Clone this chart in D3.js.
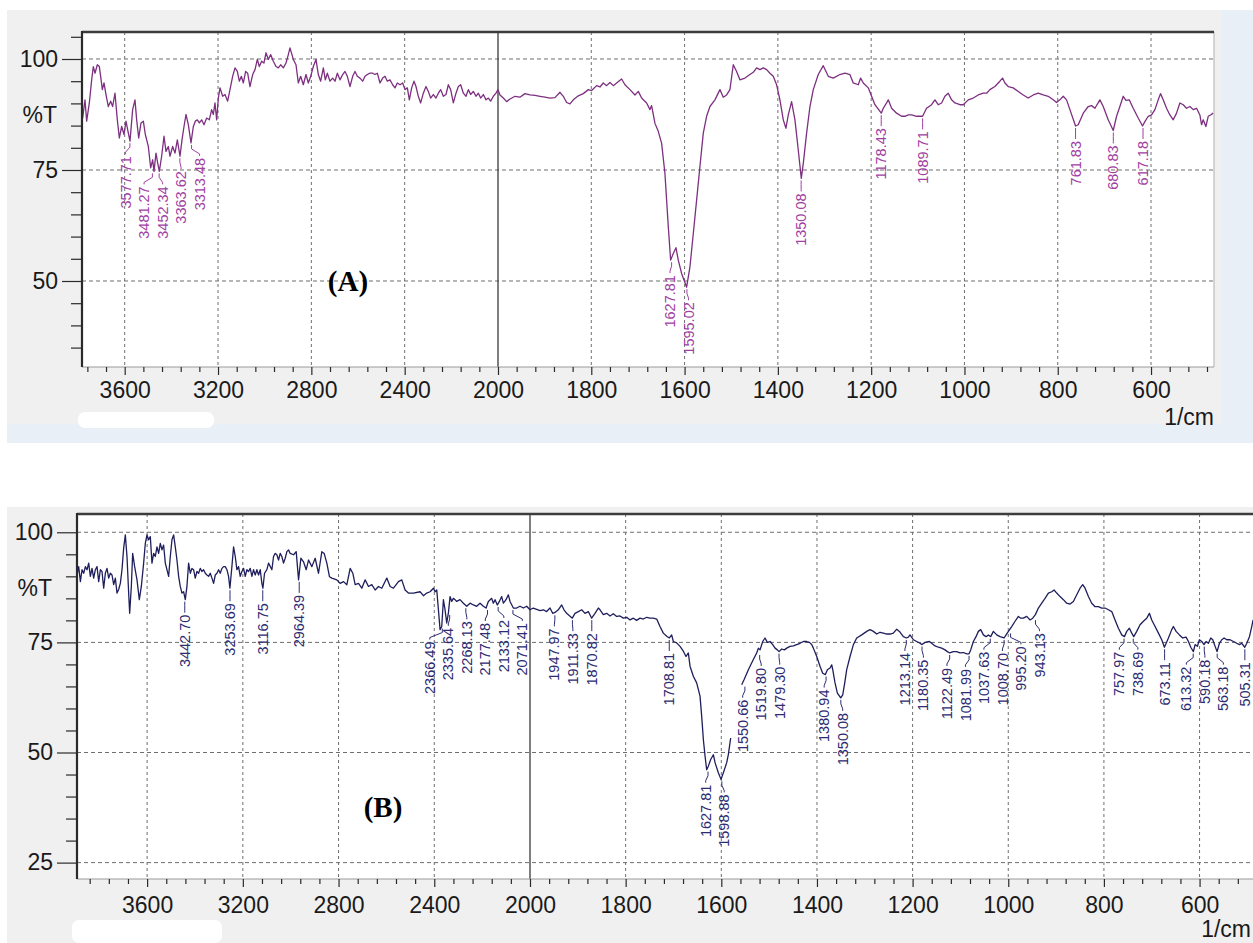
<!DOCTYPE html>
<html>
<head>
<meta charset="utf-8">
<script src="https://cdn.jsdelivr.net/npm/d3@7"></script>
<style>
body { margin: 0; background: #ffffff; }
svg text { font-family: "Liberation Sans", Arial, sans-serif; }
</style>
</head>
<body>
<div id="dataviz"></div>
<script>
"use strict";

// -----------------------------------------------------------------------
// ------------------------------ Data -----------------------------------
// -----------------------------------------------------------------------
var majorTicksX = [3600, 3200, 2800, 2400, 2000, 1800, 1600, 1400, 1200, 1000, 800, 600];
var yTicksA = [100, 75, 50];
var yTicksB = [100, 75, 50, 25];

// [wavenumber (1/cm), %T]
var spectrumA = [
    [3780.2,86.7],[3770.2,90.8],[3763.0,86.0],[3751.6,90.1],[3741.6,95.3],[3734.5,98.3],[3727.3,96.8],[3717.3,98.7],
    [3708.7,98.3],[3703.0,96.1],[3695.9,93.1],[3688.7,94.6],[3680.2,92.0],[3670.2,89.3],[3660.2,90.5],[3651.6,89.3],
    [3641.6,92.3],[3631.6,86.3],[3623.0,82.2],[3613.0,84.8],[3603.0,83.0],[3594.4,86.0],[3584.4,83.3],[3577.3,81.5],
    [3565.9,88.6],[3555.9,90.8],[3548.7,86.3],[3540.1,82.2],[3530.1,85.6],[3520.1,86.0],[3511.6,83.0],[3498.7,80.3],
    [3488.7,75.5],[3480.1,77.3],[3474.4,74.7],[3465.9,78.8],[3458.7,76.6],[3451.6,74.7],[3441.6,78.1],[3431.6,82.6],
    [3423.0,79.2],[3413.0,80.3],[3405.9,78.1],[3394.4,80.3],[3384.4,78.8],[3374.4,81.8],[3363.0,78.1],[3354.4,81.8],
    [3345.8,84.8],[3337.3,87.5],[3327.3,85.2],[3315.8,81.1],[3305.8,84.8],[3297.3,86.0],[3288.7,86.3],[3280.1,85.6],
    [3270.1,86.3],[3260.1,85.2],[3248.7,86.7],[3237.3,86.3],[3227.3,88.6],[3220.1,87.5],[3213.0,90.1],[3205.8,86.3],
    [3198.7,91.2],[3191.5,93.5],[3180.1,91.6],[3170.1,92.0],[3158.7,90.5],[3148.7,93.1],[3137.3,96.1],[3127.3,98.0],
    [3117.3,97.2],[3108.7,95.0],[3100.1,96.1],[3091.5,94.6],[3081.5,97.2],[3073.0,96.8],[3063.0,93.8],[3051.5,96.5],
    [3041.5,97.6],[3031.5,99.9],[3023.0,98.3],[3013.0,99.5],[3003.0,99.1],[2994.4,101.4],[2984.4,99.9],[2974.4,101.0],
    [2963.0,99.5],[2951.5,98.3],[2941.5,98.0],[2931.5,98.7],[2920.1,98.0],[2908.7,99.1],[2898.7,101.0],[2891.5,102.5],
    [2877.2,99.9],[2865.8,98.7],[2855.8,94.6],[2845.8,96.1],[2834.4,94.2],[2822.9,96.5],[2812.9,94.6],[2802.9,96.1],
    [2791.5,98.3],[2780.1,99.9],[2770.1,96.5],[2760.1,95.0],[2748.6,98.0],[2740.1,95.3],[2731.5,96.8],[2720.1,95.0],
    [2708.6,95.7],[2698.6,95.0],[2688.6,96.8],[2677.2,95.3],[2665.8,96.5],[2655.8,97.2],[2645.8,96.1],[2634.3,93.8],
    [2622.9,96.1],[2612.9,97.2],[2602.9,96.1],[2591.5,95.7],[2580.0,95.0],[2570.0,96.1],[2560.0,96.5],[2548.6,96.8],
    [2537.2,96.8],[2527.2,96.5],[2517.2,96.8],[2505.8,94.6],[2494.3,95.7],[2484.3,96.1],[2474.3,95.0],[2462.9,95.3],
    [2451.5,94.2],[2441.5,93.5],[2431.5,94.6],[2420.0,94.2],[2408.6,94.6],[2398.6,93.1],[2388.6,93.5],[2380.0,90.8],
    [2370.0,93.5],[2360.0,95.0],[2351.5,93.8],[2341.5,91.6],[2331.5,90.1],[2320.0,92.3],[2308.6,93.8],[2298.6,92.7],
    [2288.6,91.2],[2277.2,92.0],[2265.8,91.2],[2255.7,92.3],[2245.7,93.1],[2234.3,91.6],[2222.9,92.0],[2212.9,94.2],
    [2202.9,93.1],[2191.4,90.1],[2180.0,92.3],[2170.0,93.8],[2160.0,94.2],[2148.6,92.3],[2137.2,91.6],[2127.1,93.1],
    [2117.1,92.0],[2105.7,92.7],[2094.3,91.6],[2084.3,92.3],[2074.3,91.2],[2062.9,92.0],[2051.4,90.8],[2041.4,91.2],
    [2031.4,90.5],[2020.0,91.6],[2008.6,92.3],[2000.0,93.1],
    [1995.8,91.9],[1988.6,91.2],[1981.5,90.4],[1974.3,91.0],[1963.6,91.6],[1952.9,91.4],[1942.2,92.2],[1931.4,91.9],
    [1920.7,91.8],[1910.0,91.6],[1899.3,91.4],[1888.6,91.2],[1877.9,91.3],[1867.1,92.5],[1860.0,91.6],[1852.9,90.2],
    [1845.7,89.9],[1838.6,90.8],[1827.8,91.7],[1817.1,92.2],[1806.4,93.1],[1799.3,92.9],[1788.5,94.0],[1781.4,93.7],
    [1774.3,94.6],[1767.1,94.0],[1760.0,94.7],[1752.8,94.0],[1745.7,94.6],[1735.0,95.5],[1727.8,94.2],[1717.1,93.1],
    [1706.4,91.9],[1699.2,92.7],[1692.1,91.2],[1681.4,90.1],[1674.2,88.6],[1670.7,89.5],[1663.5,85.5],[1656.4,83.7],
    [1649.2,81.0],[1642.1,74.2],[1638.5,68.2],[1634.9,62.2],[1629.9,54.7],[1624.2,56.2],[1618.5,57.5],[1613.5,54.7],
    [1606.4,51.7],[1595.6,48.6],[1588.5,53.2],[1581.3,60.7],[1574.2,68.2],[1567.1,75.8],[1559.9,83.3],[1552.8,87.1],
    [1545.6,89.3],[1534.9,90.8],[1524.2,93.1],[1517.0,91.4],[1509.9,91.9],[1502.8,93.1],[1495.6,98.7],[1488.5,97.2],
    [1481.3,95.3],[1470.6,95.7],[1459.9,96.5],[1452.7,97.0],[1445.6,98.0],[1438.4,97.6],[1431.3,98.0],[1424.1,97.6],
    [1417.0,96.8],[1409.9,96.1],[1402.7,94.2],[1395.6,90.8],[1388.4,86.3],[1382.7,84.4],[1377.7,87.4],[1370.6,90.4],
    [1363.4,86.3],[1356.3,79.5],[1349.8,73.1],[1345.5,76.5],[1338.4,83.3],[1331.2,89.3],[1324.1,93.1],[1313.4,96.5],
    [1302.7,98.5],[1291.9,96.1],[1281.3,95.7],[1266.9,96.5],[1256.2,96.8],[1245.6,96.5],
    [1238.4,94.6],[1227.6,94.2],[1222.6,95.7],[1216.9,94.6],[1206.2,93.5],[1199.1,91.6],[1191.9,89.7],[1178.3,87.8],
    [1174.0,88.9],[1166.9,90.1],[1163.3,90.8],[1156.2,88.9],[1145.5,87.8],[1134.7,87.1],[1127.6,87.1],[1120.5,87.4],
    [1113.3,87.4],[1102.6,87.1],[1095.4,87.1],[1089.7,87.1],[1081.2,88.9],[1070.4,89.7],[1063.3,90.8],[1056.2,89.7],
    [1049.0,90.1],[1041.9,91.6],[1034.7,92.3],[1027.6,90.8],[1020.4,90.1],[1009.7,89.7],[1002.6,89.7],[991.8,90.8],
    [981.1,91.2],[970.4,91.9],[959.7,92.3],[952.5,92.3],[945.4,93.1],[934.7,93.8],[924.0,95.0],[918.3,95.7],
    [913.3,94.6],[906.1,93.8],[895.4,93.5],[884.7,92.7],[873.9,91.9],[863.2,91.2],[852.5,91.9],[841.8,92.3],
    [831.1,91.9],[820.4,91.6],[809.7,90.8],[802.5,90.2],[795.4,90.8],[788.2,91.6],[781.1,90.8],[773.9,88.6],
    [761.8,84.9],[756.1,85.2],[745.3,87.8],[734.6,89.3],[727.5,89.5],[720.3,88.9],[709.6,90.8],[702.5,89.3],
    [691.8,86.3],[681.0,83.9],[673.9,87.1],[666.8,89.3],[659.6,91.6],[653.9,90.7],[646.7,90.8],[638.2,88.9],
    [627.5,86.7],[618.2,84.9],[613.2,85.9],[606.0,87.1],[598.9,87.4],[591.7,88.6],[584.6,90.8],[579.6,92.2],
    [573.9,90.8],[566.7,88.9],[559.6,87.4],[552.4,86.3],[545.3,87.8],[538.2,90.1],[531.0,89.7],[523.9,88.9],
    [516.7,89.3],[509.6,88.6],[502.4,88.9],[495.3,87.4],[491.7,85.2],[488.1,86.3],[482.4,84.8],[477.4,87.1],
    [472.4,87.4],[466.7,87.8]
];

var peaksA = [3577.71, 3481.27, 3452.34, 3363.62, 3313.48, 1627.81, 1595.02, 1350.08,
    1178.43, 1089.71, 761.83, 680.83, 617.18];

var spectrumB = [
    [3892.8,90.3],[3885.9,92.2],[3878.9,88.8],[3872.0,91.5],[3865.0,90.7],[3858.0,92.2],[3851.1,91.5],[3844.1,93.0],
    [3837.2,90.0],[3830.2,91.8],[3823.3,89.6],[3816.3,91.5],[3809.3,92.2],[3802.4,88.8],[3795.4,91.5],[3788.5,91.1],
    [3781.5,87.3],[3774.5,90.7],[3767.6,91.8],[3760.6,89.6],[3753.7,90.7],[3746.7,90.3],[3739.7,88.1],[3732.8,89.6],
    [3725.8,86.2],[3718.9,87.0],[3711.9,88.4],[3705.0,91.5],[3698.0,96.4],[3691.0,99.4],[3684.1,94.5],[3677.1,86.2],
    [3672.9,81.6],[3666.0,87.7],[3660.4,95.2],[3652.1,92.2],[3642.3,89.2],[3632.6,84.7],[3624.2,87.7],[3614.5,93.0],
    [3607.5,97.5],[3600.6,99.4],[3593.6,98.3],[3586.6,99.0],[3579.7,93.0],[3572.7,95.2],[3565.8,94.5],[3558.8,96.7],
    [3551.9,95.2],[3544.9,97.5],[3537.9,96.0],[3531.0,97.1],[3524.0,93.0],[3517.1,91.5],[3510.1,90.0],[3503.1,94.5],
    [3496.2,98.3],[3489.2,99.4],[3482.3,96.7],[3475.3,93.7],[3468.3,90.0],[3461.4,87.7],[3454.4,86.2],[3447.5,86.5],
    [3440.5,84.7],[3433.6,87.7],[3426.6,93.0],[3419.6,90.7],[3412.7,91.8],[3405.7,91.5],[3398.8,89.6],[3391.8,91.1],
    [3384.8,90.7],[3377.9,91.8],[3370.9,91.1],[3364.0,91.5],[3357.0,90.7],[3350.0,90.3],[3343.1,90.0],[3336.1,90.7],
    [3329.2,89.6],[3322.2,88.4],[3315.2,90.3],[3308.3,90.7],[3301.3,91.5],[3294.4,90.7],[3287.4,91.8],[3280.3,92.2],
    [3273.5,92.2],[3266.5,91.5],[3259.6,90.0],[3254.0,87.3],[3245.7,92.2],[3238.7,96.7],[3231.7,94.5],[3224.8,91.5],
    [3217.8,92.2],[3210.9,90.0],[3203.9,91.1],[3196.9,91.8],[3190.0,90.0],[3183.0,91.5],[3176.1,91.1],[3169.1,91.8],
    [3162.1,90.0],[3155.2,91.5],[3148.2,90.3],[3141.3,91.5],[3134.3,90.3],[3127.3,91.5],[3120.4,88.4],[3116.2,87.3],
    [3109.3,90.7],[3099.5,91.5],[3092.6,93.0],[3078.6,91.5],[3071.7,94.5],[3064.7,95.2],[3057.8,94.9],[3050.8,93.7],
    [3043.8,95.2],[3036.9,94.5],[3029.9,93.0],[3023.0,94.1],[3016.0,95.6],[3009.0,96.0],[3002.1,95.2],
    [2988.1,94.9],[2977.0,95.6],[2967.2,89.2],[2957.5,94.1],[2946.4,93.3],[2935.2,91.5],[2925.5,93.7],[2911.6,92.2],
    [2897.7,94.1],[2883.8,90.7],[2869.8,95.6],[2860.1,95.2],[2849.0,93.0],[2837.8,89.9],[2828.1,89.6],[2807.2,89.2],
    [2793.3,88.4],[2779.3,88.8],[2765.4,88.1],[2751.5,91.8],[2740.4,90.7],[2730.6,88.1],[2716.7,88.4],[2702.8,87.3],
    [2688.8,89.2],[2674.9,87.7],[2661.0,88.1],[2647.1,86.9],[2633.2,87.7],[2619.3,87.3],[2598.4,89.6],[2584.5,87.7],
    [2570.6,87.3],[2549.7,88.8],[2535.8,89.2],[2521.9,86.9],[2508.0,86.2],[2487.1,86.2],[2459.3,86.5],
    [2445.4,85.6],[2431.5,86.2],[2417.5,86.5],[2403.6,87.3],[2396.7,86.5],[2389.7,86.9],[2382.7,82.4],[2375.8,77.9],
    [2368.8,78.6],[2361.9,84.7],[2354.9,82.4],[2348.0,79.4],[2341.0,81.7],[2334.1,85.4],[2327.1,84.3],[2320.1,85.0],
    [2313.2,84.7],[2306.2,84.3],[2292.3,84.7],[2278.4,83.9],[2264.5,83.2],[2250.5,83.9],[2236.6,83.5],[2222.7,83.2],
    [2208.8,83.9],[2194.9,83.2],[2183.7,82.8],[2174.0,84.3],[2160.1,85.0],[2153.1,83.9],[2146.1,84.7],[2136.4,83.5],
    [2128.0,84.3],[2118.3,85.4],[2111.3,83.9],[2100.2,84.7],[2090.5,85.8],[2083.5,84.3],[2069.6,82.8],[2055.7,82.8],
    [2041.8,83.2],[2027.8,82.8],[2013.9,83.2],[2000.0,82.4],[1993.1,82.8],[1986.1,82.5],[1979.1,82.2],[1972.2,82.4],
    [1965.2,82.0],[1958.2,82.8],[1952.6,81.6],[1947.8,81.8],[1940.8,82.4],[1933.8,83.5],[1928.9,82.4],[1923.4,81.6],
    [1911.5,80.5],[1905.9,81.6],[1898.9,82.0],[1891.9,82.4],[1885.0,81.6],[1878.0,82.0],[1871.1,80.5],[1864.1,81.6],
    [1857.1,82.8],[1853.6,82.4],[1846.7,81.3],[1839.7,81.6],[1832.7,81.0],[1825.8,81.5],[1818.8,80.9],[1811.8,81.0],
    [1804.8,80.5],[1797.9,80.7],[1790.9,80.1],[1783.9,80.5],[1777.0,80.0],[1770.0,80.5],[1763.0,80.3],[1756.0,80.7],
    [1749.1,80.5],[1742.1,80.5],[1735.1,80.3],[1728.2,78.6],[1721.2,77.1],[1714.2,76.4],[1708.6,76.0],[1703.8,76.7],
    [1700.3,75.2],[1693.3,74.9],[1686.3,74.1],[1679.4,73.0],[1673.8,71.8],[1668.9,72.6],[1665.4,69.6],[1658.5,67.3],
    [1651.5,65.8],[1644.5,62.8],[1641.0,58.2],[1637.5,52.9],[1634.0,49.2],[1630.6,46.1],[1627.1,46.9],[1622.2,48.4],
    [1616.6,49.5],[1613.1,47.7],[1606.2,45.4],[1600.6,43.9],[1595.7,45.4],[1588.7,47.7],[1585.3,49.5],[1580.4,53.3],
    [1570.0,NaN],
    [1557.4,65.4],[1552.5,66.5],[1543.4,68.8],[1533.0,71.1],[1526.0,72.6],[1522.5,73.7],[1519.0,73.3],[1513.4,75.2],
    [1508.6,76.0],[1503.7,75.0],[1498.1,75.2],[1492.5,74.5],[1487.6,73.7],[1482.8,73.3],[1479.3,72.9],[1473.7,73.5],
    [1468.1,73.3],[1463.2,73.7],[1456.3,74.1],[1449.3,74.2],[1442.3,74.5],[1435.4,74.8],[1428.4,75.2],[1421.4,75.2],
    [1415.8,75.0],[1411.0,74.5],[1407.5,73.7],[1400.5,71.8],[1393.6,69.6],[1388.0,68.0],[1382.4,67.7],[1378.2,68.8],
    [1372.6,69.2],[1369.1,69.9],[1367.0,68.8],[1362.2,65.8],[1357.3,63.5],[1350.3,62.4],[1346.1,63.1],[1341.9,65.8],
    [1337.8,68.8],[1330.8,71.8],[1323.8,74.5],[1316.9,76.0],[1306.4,76.7],[1295.9,77.5],[1289.0,77.9],[1282.0,77.5],
    [1275.0,76.9],[1268.1,77.3],[1261.1,77.1],[1254.1,76.9],[1247.1,76.9],[1240.2,77.1],[1233.2,78.0],[1227.6,77.5],
    [1219.3,76.3],[1213.1,76.0],[1208.9,76.2],[1205.4,76.7],[1198.4,75.6],[1191.5,75.2],[1184.5,74.8],[1180.3,74.5],
    [1174.0,75.0],[1165.0,75.2],[1160.1,74.8],[1153.1,74.2],[1146.1,73.9],[1139.2,73.7],[1132.2,73.3],[1127.3,72.9],
    [1122.4,72.6],[1114.8,72.9],[1107.8,72.9],[1100.8,72.6],[1093.8,72.7],[1086.9,72.4],[1082.0,72.4],[1078.5,73.3],
    [1073.0,75.2],[1067.4,76.3],[1062.5,77.5],[1057.6,77.9],[1052.0,76.7],[1046.5,76.3],[1041.6,76.7],[1036.7,76.3],
    [1031.1,77.5],[1024.1,76.7],[1017.2,76.3],[1008.8,76.0],[1004.6,76.7],[999.7,77.5],[992.8,78.6],[985.8,79.8],
    [978.8,80.9],[973.9,80.5],[968.4,80.5],[961.4,80.9],[954.4,80.1],[948.9,80.5],[943.3,81.3],[937.0,82.8],
    [930.0,83.9],[923.1,85.0],[916.1,86.2],[909.1,86.5],[904.2,86.9],[898.7,86.2],[891.7,85.4],[884.7,84.7],
    [877.8,83.9],[870.8,83.7],[863.8,84.3],[856.8,85.8],[849.9,87.3],[844.3,88.1],[839.4,87.3],[832.4,85.4],
    [825.5,83.9],[818.5,83.1],[811.5,83.1],[804.6,82.8],[797.6,82.8],[790.6,82.4],[783.6,82.0],[776.7,80.1],
    [769.7,78.2],[762.7,76.7],[757.1,76.3],[752.3,77.5],[746.7,78.2],[741.8,77.1],[737.6,76.3],[731.4,77.5],
    [724.4,79.0],[717.4,79.8],[710.4,80.5],[704.9,81.6],[700.0,80.1],[693.0,78.6],[686.0,77.1],[679.1,75.6],
    [673.5,73.9],[665.1,76.0],[658.2,77.9],[654.7,78.6],[649.1,77.5],[642.1,76.7],[635.2,76.0],[628.2,76.2],
    [623.3,75.2],[618.4,73.9],[612.9,72.9],[609.4,74.5],[604.5,74.1],[600.3,75.6],[595.4,75.2],[590.6,74.5],
    [586.4,75.2],[581.5,74.8],[576.6,76.0],[572.4,75.6],[567.5,74.1],[563.4,72.9],[558.5,74.8],[553.6,75.6],
    [548.7,76.0],[543.1,75.6],[536.2,75.6],[529.2,75.2],[522.2,74.8],[516.6,74.5],[511.8,74.8],[505.5,73.9],
    [501.3,74.8],[495.7,76.3],[490.9,78.6],[488.1,80.1]
];

var peaksB = [3442.70, 3253.69, 3116.75, 2964.39, 2366.49, 2335.64, 2268.13, 2177.48, 2133.12, 2071.41,
    1947.97, 1911.33, 1870.82, 1708.81, 1627.81, 1598.88, 1550.66, 1519.80, 1479.30, 1380.94, 1350.08,
    1213.14, 1180.35, 1122.49, 1081.99, 1037.63, 1008.70, 995.20, 943.13, 757.97, 738.69, 673.11,
    613.32, 590.18, 563.18, 505.31];


// -----------------------------------------------------------------------
// ------------------------- Objects Creation ----------------------------
// -----------------------------------------------------------------------
var svg = d3.select("#dataviz").append("svg")
    .attr("width", 1253)
    .attr("height", 943);

// panel backgrounds (instrument software window look)
svg.append("rect").attr("x", 7).attr("y", 10).attr("width", 1246).attr("height", 433).attr("fill", "#e9eff7");
svg.append("rect").attr("x", 7).attr("y", 10).attr("width", 1215).attr("height", 414).attr("fill", "#f0f0f0");
svg.append("rect").attr("x", 78).attr("y", 412).attr("width", 136).attr("height", 16).attr("rx", 7).attr("fill", "#ffffff");
svg.append("rect").attr("x", 7).attr("y", 507).attr("width", 1246).attr("height", 436).attr("fill", "#f0f0f0");
svg.append("rect").attr("x", 72).attr("y", 920).attr("width", 150).attr("height", 23).attr("rx", 7).attr("fill", "#ffffff");


// find the %T at a labelled peak (lowest sampled point close to it)
function peakValue(data, wn){
    var near = data.filter(function(d){ return !isNaN(d[1]) && Math.abs(d[0] - wn) < 7; });
    if(near.length > 0){
        return d3.min(near, function(d){ return d[1]; });
    }
    var best = data[0];
    data.forEach(function(d){
        if(!isNaN(d[1]) && Math.abs(d[0] - wn) < Math.abs(best[0] - wn)){ best = d; }
    });
    return best[1];
}

// spread label x positions so they keep a minimum gap (1D cluster merge)
function spreadLabels(xs, gap){
    var groups = [];
    xs.forEach(function(x, i){
        groups.push({n: 1, sum: x, idx: [i]});
        while(groups.length > 1){
            var g = groups[groups.length - 1];
            var p = groups[groups.length - 2];
            if(p.sum / p.n + p.n * gap > g.sum / g.n){
                p.idx = p.idx.concat(g.idx);
                p.n = p.idx.length;
                groups.pop();
                // mean of (x_i - k*gap) gives the group start
                var s = 0;
                p.idx.forEach(function(j, k){ s += xs[j] - k * gap; });
                p.sum = s;
            }else{
                break;
            }
        }
    });
    var out = [];
    groups.forEach(function(g){
        var start = g.sum / g.n;
        g.idx.forEach(function(j, k){ out[j] = start + k * gap; });
    });
    return out;
}


function drawPanel(cfg){

    var xScale = d3.scaleLinear()
        .domain(cfg.xDomain)
        .range([cfg.left, cfg.breakX, cfg.right]);
    var yScale = d3.scaleLinear()
        .domain(cfg.yDomain)
        .range([cfg.bottom, cfg.top]);

    var g = svg.append("g");

    // plot area
    g.append("rect")
        .attr("x", cfg.left)
        .attr("y", cfg.top)
        .attr("width", cfg.right - cfg.left)
        .attr("height", cfg.bottom - cfg.top)
        .attr("fill", "#ffffff");

    var clipId = "clip-" + cfg.name;
    g.append("clipPath").attr("id", clipId)
        .append("rect")
        .attr("x", cfg.left)
        .attr("y", cfg.top)
        .attr("width", cfg.right - cfg.left)
        .attr("height", cfg.bottom - cfg.top);

    // grid
    g.selectAll(".hgrid")
        .data(cfg.yTicks)
        .enter().append("line")
        .attr("x1", cfg.left)
        .attr("x2", cfg.right)
        .attr("y1", function(d){ return yScale(d); })
        .attr("y2", function(d){ return yScale(d); })
        .attr("stroke", "#6e6e6e")
        .attr("stroke-width", 1)
        .attr("stroke-dasharray", "4,3");

    g.selectAll(".vgrid")
        .data(majorTicksX.filter(function(d){ return d !== 2000; }))
        .enter().append("line")
        .attr("x1", function(d){ return xScale(d); })
        .attr("x2", function(d){ return xScale(d); })
        .attr("y1", cfg.top)
        .attr("y2", cfg.bottom)
        .attr("stroke", "#6e6e6e")
        .attr("stroke-width", 1)
        .attr("stroke-dasharray", "3,3");

    // scale change marker at 2000
    g.append("line")
        .attr("x1", xScale(2000))
        .attr("x2", xScale(2000))
        .attr("y1", cfg.top)
        .attr("y2", cfg.bottom)
        .attr("stroke", "#3a3a3a")
        .attr("stroke-width", 1.3);

    // spectrum
    var line = d3.line()
        .defined(function(d){ return !isNaN(d[1]); })
        .x(function(d){ return xScale(d[0]); })
        .y(function(d){ return yScale(d[1]); });

    g.append("path")
        .datum(cfg.data)
        .attr("clip-path", "url(#" + clipId + ")")
        .attr("d", line)
        .attr("fill", "none")
        .attr("stroke", cfg.lineColor)
        .attr("stroke-width", 1.3)
        .attr("stroke-linejoin", "round");

    // frame
    g.append("line")
        .attr("x1", cfg.left).attr("x2", cfg.right)
        .attr("y1", cfg.bottom).attr("y2", cfg.bottom)
        .attr("stroke", "#9a9a9a").attr("stroke-width", 1);
    g.append("line")
        .attr("x1", cfg.right).attr("x2", cfg.right)
        .attr("y1", cfg.top).attr("y2", cfg.bottom)
        .attr("stroke", "#b0b0b0").attr("stroke-width", 1);
    g.append("line")
        .attr("x1", cfg.left).attr("x2", cfg.right)
        .attr("y1", cfg.top).attr("y2", cfg.top)
        .attr("stroke", "#3c3c3c").attr("stroke-width", 2.5);

    // x axis
    var xMinor = d3.range(2080, cfg.xDomain[0], 80)
        .concat(d3.range(1960, cfg.xDomain[2], -40))
        .filter(function(d){ return majorTicksX.indexOf(d) < 0; });

    var xAxisMinor = d3.axisBottom(xScale).tickValues(xMinor).tickSize(5).tickFormat("");
    var xAxis = d3.axisBottom(xScale)
        .tickValues(majorTicksX)
        .tickSize(8)
        .tickPadding(cfg.xLabelPad)
        .tickFormat(d3.format("d"));

    var gxm = g.append("g")
        .attr("transform", "translate(0," + cfg.bottom + ")")
        .call(xAxisMinor);
    var gx = g.append("g")
        .attr("transform", "translate(0," + cfg.bottom + ")")
        .call(xAxis);

    // y axis
    var yMinor = d3.range(cfg.yMinorFrom, cfg.yMinorTo + 1, 5)
        .filter(function(d){ return cfg.yTicks.indexOf(d) < 0; });
    var yAxisMinor = d3.axisLeft(yScale).tickValues(yMinor).tickSize(11).tickFormat("");
    var yAxis = d3.axisLeft(yScale).tickValues(cfg.yTicks).tickSize(20).tickPadding(4);

    var gym = g.append("g")
        .attr("transform", "translate(" + cfg.left + ",0)")
        .call(yAxisMinor);
    var gy = g.append("g")
        .attr("transform", "translate(" + cfg.left + ",0)")
        .call(yAxis);

    [gxm, gx, gym, gy].forEach(function(a){
        a.select(".domain").remove();
        a.selectAll(".tick line").attr("stroke", "#2a2a2a").attr("stroke-width", 1.2);
        a.selectAll(".tick text")
            .attr("fill", "#1a1a1a")
            .style("font-size", "23px")
            .style("font-family", "'Liberation Sans', Arial, sans-serif");
    });

    g.append("line")
        .attr("x1", cfg.left).attr("x2", cfg.left)
        .attr("y1", cfg.top - 1).attr("y2", cfg.bottom)
        .attr("stroke", "#2a2a2a").attr("stroke-width", 2.2);

    // axis labels
    g.append("text")
        .attr("x", cfg.left - 25)
        .attr("y", yScale(87.3) + 8)
        .attr("text-anchor", "end")
        .attr("fill", "#1a1a1a")
        .style("font-size", "23px")
        .text("%T");

    g.append("text")
        .attr("x", cfg.unitX)
        .attr("y", cfg.bottom + 58)
        .attr("text-anchor", "end")
        .attr("fill", "#1a1a1a")
        .style("font-size", "23px")
        .text("1/cm");

    // peak labels
    var peaks = cfg.peaks.map(function(wn){
        var t = peakValue(cfg.data, wn);
        return {wn: wn, px: xScale(wn), py: yScale(t)};
    });
    var lx = spreadLabels(peaks.map(function(p){ return p.px; }), 18.5);
    peaks.forEach(function(p, i){ p.lx = lx[i]; });

    g.selectAll(".leader")
        .data(peaks)
        .enter().append("path")
        .attr("d", function(p){
            return "M" + p.px + "," + (p.py + 2) +
                "L" + p.px + "," + (p.py + 6) +
                "L" + p.lx + "," + (p.py + 11) +
                "L" + p.lx + "," + (p.py + 13);
        })
        .attr("fill", "none")
        .attr("stroke", cfg.labelColor)
        .attr("stroke-width", 1);

    g.selectAll(".peak-label")
        .data(peaks)
        .enter().append("text")
        .attr("transform", function(p){
            return "translate(" + p.lx + "," + (p.py + 15) + ")rotate(-90)";
        })
        .attr("text-anchor", "end")
        .attr("dy", "0.35em")
        .attr("fill", cfg.labelColor)
        .style("font-size", "14.5px")
        .text(function(p){ return p.wn.toFixed(2); });

    // panel tag
    g.append("text")
        .attr("x", cfg.tagX)
        .attr("y", cfg.tagY)
        .attr("text-anchor", "middle")
        .attr("fill", "#000000")
        .style("font-family", "'Liberation Serif', 'Times New Roman', serif")
        .style("font-weight", "bold")
        .style("font-size", "29px")
        .text(cfg.tag);
}


drawPanel({
    name: "a",
    left: 82, right: 1214, top: 32, bottom: 367, breakX: 498,
    xDomain: [3783, 2000, 465],
    yDomain: [30.63, 106.08],
    yTicks: yTicksA, yMinorFrom: 35, yMinorTo: 105,
    xLabelPad: 7,
    unitX: 1214,
    data: spectrumA,
    peaks: peaksA,
    lineColor: "#7d2f80",
    labelColor: "#a13fa3",
    tag: "(A)", tagX: 348, tagY: 291
});

drawPanel({
    name: "b",
    left: 77, right: 1256, top: 514, bottom: 879, breakX: 530,
    xDomain: [3893, 2000, 482],
    yDomain: [21.28, 104.15],
    yTicks: yTicksB, yMinorFrom: 25, yMinorTo: 100,
    xLabelPad: 10,
    unitX: 1251,
    data: spectrumB,
    peaks: peaksB,
    lineColor: "#1e1e5c",
    labelColor: "#2c2c72",
    tag: "(B)", tagX: 383, tagY: 817
});
</script>
</body>
</html>
